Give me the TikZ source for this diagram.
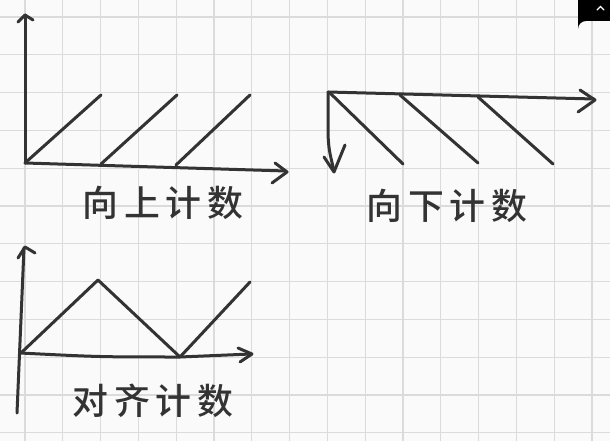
\documentclass[tikz,border=0pt]{standalone}
\usepackage{fontspec}
\newfontfamily\cjk{Noto Sans CJK SC}[BoldFont={Noto Sans CJK SC Medium}]
\newcommand{\gp}{\hspace{6bp}}
\begin{document}
\begin{tikzpicture}[x=1bp,y=-1bp,
  gridline/.style={draw=black!14,line width=1.3bp},
  ink/.style={draw=black!80,line width=3bp,line cap=round,line join=round},
  label/.style={font=\cjk\bfseries\fontsize{36}{40}\selectfont,text=black!80,inner sep=0pt}]
\useasboundingbox (0,0) rectangle (610,441);
\fill[white!98!black] (0,0) rectangle (610,441);
% grid
\foreach \k in {0,...,15} {\draw[gridline] ({25+37.8*\k},0) -- ({25+37.8*\k},441);}
\foreach \k in {0,...,11} {\draw[gridline] (0,{17+37.8*\k}) -- (610,{17+37.8*\k});}
% UI corner
\fill[black] (578,0) -- (610,0) -- (610,21) -- (586,21) arc[start angle=270,end angle=180,radius=8] -- cycle;
\draw[white,line width=1.2bp,line cap=round] (597,10) -- (600.5,6.5) -- (604,10);

% ---------- up counting ----------
\coordinate (o1) at (25,163);
\draw[ink] (o1) -- (25,15);
\draw[ink] (18,22) -- (25,15) -- (33,20);
\draw[ink] (o1) -- (286,171);
\draw[ink] (275,163) -- (287,172) -- (272,183);
\draw[ink] (o1) -- (101,95);
\draw[ink] (101,164) -- (177,95);
\draw[ink] (176,165) -- (250,95);
\node[label] (l1) at (163,203) {向\gp 上\gp 计\gp 数};

% ---------- down counting ----------
\coordinate (o2) at (328,92);
\draw[ink] (o2) -- (594,99);
\draw[ink] (580,90) -- (595,100) -- (578,112);
\draw[ink] (o2) -- (328,135) .. controls (329,150) .. (334,171);
\draw[ink] (324,157) -- (334,172) -- (345,145);
\draw[ink] (330,93) -- (403,164);
\draw[ink] (400,95) -- (478,163);
\draw[ink] (478,97) -- (553,164);
\node[label] (l2) at (447,206) {向\gp 下\gp 计\gp 数};

% ---------- center-aligned counting ----------
\coordinate (o3) at (20,353);
\draw[ink] (17,413) -- (24,248);
\draw[ink] (18,258) -- (25,247) -- (35,253);
\draw[ink] (o3) .. controls (100,357) .. (180,357) -- (251,354);
\draw[ink] (238,348) -- (252,354) -- (240,362);
\draw[ink] (22,352) -- (98,280) -- (180,357) -- (250,282);
\node[label] (l3) at (153,401) {对\gp 齐\gp 计\gp 数};
\end{tikzpicture}
\end{document}
